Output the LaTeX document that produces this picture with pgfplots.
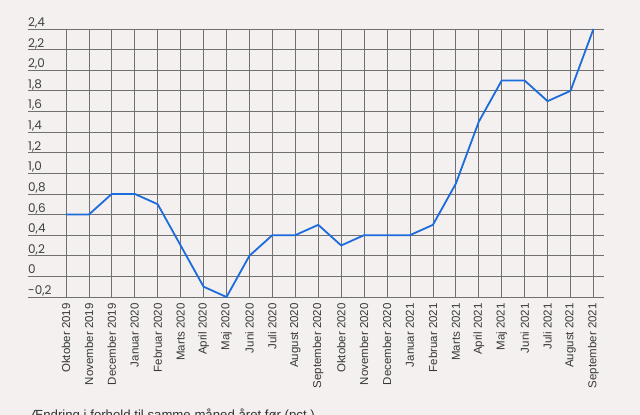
\documentclass[border=0pt]{standalone}
\usepackage{fontspec}
\setmainfont{Liberation Sans}
\newfontfamily\yfont{Poppins}
\usepackage{pgfplots}
\pgfplotsset{compat=1.18}
\definecolor{bg}{RGB}{243,240,239}
\definecolor{gridc}{RGB}{112,112,112}
\definecolor{linec}{RGB}{28,108,220}
\begin{document}
\begin{tikzpicture}
\fill[bg] (-28pt,-118pt) rectangle (612pt,297pt);
\begin{axis}[
 scale only axis,
 width=576pt, height=268pt,
 xmin=-1.655, xmax=23.46, ymin=-0.2, ymax=2.4,
 axis line style={draw=none}, major tick length=0pt,
 grid=major, major grid style={gridc, line width=0.75pt},
 xtick={0,...,23},
 xticklabels={Oktober 2019,November 2019,December 2019,Januar 2020,Februar 2020,Marts 2020,April 2020,Maj 2020,Juni 2020,Juli 2020,August 2020,September 2020,Oktober 2020,November 2020,December 2020,Januar 2021,Februar 2021,Marts 2021,April 2021,Maj 2021,Juni 2021,Juli 2021,August 2021,September 2021},
 xticklabel style={rotate=90, anchor=east, inner sep=0pt, font=\fontsize{11.5}{12}\selectfont, text=black!78},
 xticklabel shift={6pt},
 ytick={-0.2,0,0.2,0.4,0.6,0.8,1.0,1.2,1.4,1.6,1.8,2.0,2.2,2.4},
 yticklabels={{-0,2},{0},{0,2},{0,4},{0,6},{0,8},{1,0},{1,2},{1,4},{1,6},{1,8},{2,0},{2,2},{2,4}},
 yticklabel style={anchor=base west, inner sep=0pt, yshift=2.5pt, font=\yfont\fontsize{12}{13}\selectfont, text=black!75},
 clip=false,
]
\addplot[linec, line width=1.8pt, line join=round] coordinates {
(0,0.6) (1,0.6) (2,0.8) (3,0.8) (4,0.7) (5,0.3) (6,-0.1) (7,-0.2) (8,0.2) (9,0.4) (10,0.4) (11,0.5) (12,0.3) (13,0.4) (14,0.4) (15,0.4) (16,0.5) (17,0.9) (18,1.5) (19,1.9) (20,1.9) (21,1.7) (22,1.8) (23,2.4)
};
\end{axis}
\node[anchor=north west, inner sep=0pt, font=\fontsize{13.2}{15}\selectfont, text=black!80] at (2pt,-112pt) {Ændring i forhold til samme måned året før (pct.)};
\pgfresetboundingbox
\path[use as bounding box] (-28pt,-118pt) rectangle (612pt,297pt);
\end{tikzpicture}
\end{document}
